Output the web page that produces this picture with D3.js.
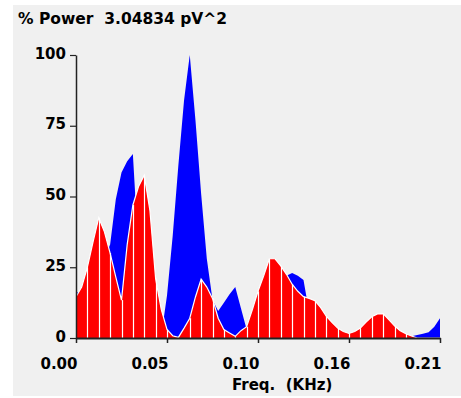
<!DOCTYPE html>
<html>
<head>
<meta charset="utf-8">
<script src="https://cdn.jsdelivr.net/npm/d3@7"></script>
<style>
  html, body { margin: 0; padding: 0; background: #ffffff; }
  svg { display: block; }
  text { font-family: "DejaVu Sans", sans-serif; font-weight: bold; fill: #000; }
</style>
</head>
<body>
<svg id="chart" width="461" height="398"></svg>
<script>
// Spectrum sampled on a uniform frequency grid (KHz)
const freqs = [0, 0.00328, 0.00656, 0.00984, 0.01313, 0.01641, 0.01969, 0.02297, 0.02625, 0.02953,
  0.03281, 0.03609, 0.03938, 0.04266, 0.04594, 0.04922, 0.0525, 0.05578, 0.05906, 0.06234,
  0.06563, 0.06891, 0.07219, 0.07547, 0.07875, 0.08203, 0.08531, 0.08859, 0.09188, 0.09516,
  0.09844, 0.10172, 0.105, 0.10828, 0.11156, 0.11484, 0.11813, 0.12141, 0.12469, 0.12797,
  0.13125, 0.13453, 0.13781, 0.14109, 0.14438, 0.14766, 0.15094, 0.15422, 0.1575, 0.16078,
  0.16406, 0.16734, 0.17063, 0.17391, 0.17719, 0.18047, 0.18375, 0.18703, 0.19031, 0.19359,
  0.19688, 0.20016, 0.20344, 0.20672, 0.21];

// % power, reference spectrum (blue)
const bluePower = [16.5, 15, 18, 22, 26, 28, 33, 49, 58.5, 62.5,
  65, 30, 12, 5, 2, 1, 15, 36, 61, 84,
  100, 77, 51, 28, 13.5, 9.5, 12.5, 15.5, 18, 10.5,
  3, 5, 10, 15, 20, 23, 25, 22, 23, 22,
  20.5, 9, 5, 3, 2, 1, 1, 0.5, 0.4, 0.4,
  0.3, 0.3, 0.3, 0.3, 0.3, 0.3, 0.3, 0.3, 0.4, 0.6,
  1.1, 1.5, 2, 4, 7];

// % power, current spectrum (red)
const redPower = [14.6, 18, 25, 34, 42.5, 37.5, 30, 21.5, 13.4, 33,
  47, 53.5, 57.5, 45, 21, 10, 3, 0.8, 0.2, 3.5,
  7, 14.5, 20.8, 18, 14, 7, 3, 1.8, 0.6, 2.6,
  4, 10, 16.5, 22, 28, 28, 25.5, 22.5, 19, 16.5,
  14.6, 14, 13.2, 10.8, 7.7, 5.5, 3.5, 2.3, 1.6, 2.3,
  3.5, 5.6, 7.5, 8.5, 8.6, 6.5, 4.3, 2.6, 1.5, 0.7,
  0, 0, 0, 0, 0];

const xTickValues = [0, 0.0525, 0.105, 0.1575, 0.21];
const xTickLabels = ["0.00", "0.05", "0.10", "0.16", "0.21"];
const yTickValues = [0, 25, 50, 75, 100];

const titleText = "% Power  3.04834 pV^2";
const xTitle = "Freq.  (KHz)";

const svg = d3.select("#chart");

// panel background
svg.append("rect")
  .attr("x", 13).attr("y", 5)
  .attr("width", 448).attr("height", 391)
  .attr("fill", "#f0f0f0");

const x = d3.scaleLinear().domain([0, 0.21]).range([76, 440]);
const y = d3.scaleLinear().domain([0, 100]).range([338, 55]);

const blueData = freqs.map((f, i) => ({ f, v: bluePower[i] }));
const redData = freqs.map((f, i) => ({ f, v: redPower[i] }));

const area = d3.area().x(d => x(d.f)).y0(y(0)).y1(d => y(d.v));
const line = d3.line().x(d => x(d.f)).y(d => y(d.v));

svg.append("path")
  .datum(blueData)
  .attr("d", area)
  .attr("fill", "#0000ff");

svg.append("path")
  .datum(redData)
  .attr("d", area)
  .attr("fill", "#ff0000");

// white bar separators inside the red spectrum
svg.append("g")
  .selectAll("line")
  .data(redData.filter((d, i) => i > 0 && i % 2 === 0 && d.v > 0))
  .join("line")
  .attr("x1", d => Math.round(x(d.f)) + 0.5)
  .attr("x2", d => Math.round(x(d.f)) + 0.5)
  .attr("y1", y(0))
  .attr("y2", d => y(d.v))
  .attr("stroke", "#ffffff")
  .attr("stroke-width", 1.2);

// white outline along the red top edge
svg.append("path")
  .datum(redData)
  .attr("d", line)
  .attr("fill", "none")
  .attr("stroke", "#ffffff")
  .attr("stroke-width", 1.2);

// axes
const xAxis = d3.axisBottom(x)
  .tickValues(xTickValues)
  .tickFormat((d, i) => xTickLabels[i])
  .tickSizeInner(5)
  .tickSizeOuter(0);

const gx = svg.append("g")
  .attr("transform", `translate(0,${y(0)})`)
  .call(xAxis);
gx.select(".domain").attr("stroke", "#222").attr("stroke-width", 2);
gx.selectAll(".tick line").attr("stroke", "#222").attr("stroke-width", 1.5);
gx.selectAll(".tick text")
  .attr("text-anchor", "end")
  .attr("x", 1)
  .attr("y", 0)
  .attr("dy", 31)
  .style("font-size", "15px")
  .style("font-family", "DejaVu Sans")
  .style("font-weight", "bold");

const yAxis = d3.axisLeft(y)
  .tickValues(yTickValues)
  .tickFormat(d3.format("d"))
  .tickSizeInner(6)
  .tickSizeOuter(0);

const gy = svg.append("g")
  .attr("transform", `translate(${x(0)},0)`)
  .call(yAxis);
gy.select(".domain").attr("stroke", "#222").attr("stroke-width", 1.5);
gy.selectAll(".tick line").attr("stroke", "#222").attr("stroke-width", 1.2);
gy.selectAll(".tick text")
  .attr("x", -10)
  .attr("dy", "0.2em")
  .style("font-size", "15px")
  .style("font-family", "DejaVu Sans")
  .style("font-weight", "bold");

// titles
svg.append("text")
  .attr("x", 18).attr("y", 24)
  .style("font-size", "15.5px")
  .attr("xml:space", "preserve")
  .text(titleText);

svg.append("text")
  .attr("x", 232).attr("y", 390)
  .style("font-size", "15px")
  .attr("xml:space", "preserve")
  .text(xTitle);
</script>
</body>
</html>
